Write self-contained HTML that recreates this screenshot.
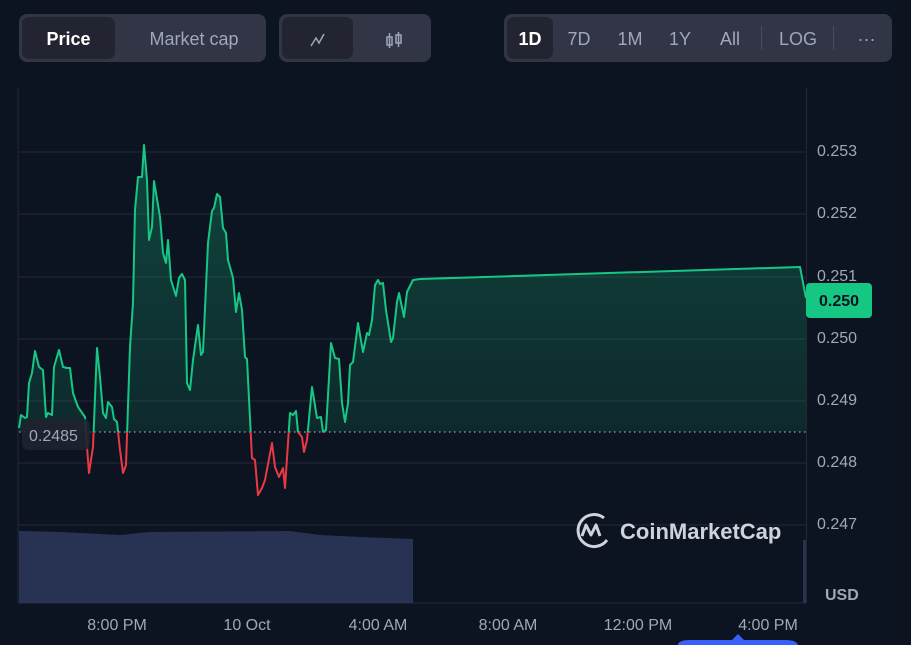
<!DOCTYPE html>
<html><head><style>
body{margin:0;width:911px;height:645px;background:#0d1421;font-family:"Liberation Sans",sans-serif;overflow:hidden;position:relative}
.grp{position:absolute;top:14px;height:48px;background:#323546;border-radius:8px}
.btn{position:absolute;top:3px;height:42px;line-height:44px;text-align:center;font-size:18px;color:#a1a7bb;border-radius:7px}
.sel{background:#222531;color:#fff;font-weight:bold}
.yl{position:absolute;left:817px;font-size:16px;color:#a1a7bb}
.xl{position:absolute;top:617px;font-size:16px;color:#a1a7bb;transform:translateX(-50%);white-space:nowrap}
</style></head><body>
<div class="grp" style="left:19px;width:247px">
 <div class="btn sel" style="left:3px;width:93px">Price</div>
 <div class="btn" style="left:105px;width:140px">Market cap</div>
</div>
<div class="grp" style="left:279px;width:152px">
 <div class="btn sel" style="left:3px;width:71px"><svg width="20" height="20" viewBox="0 0 20 20" style="vertical-align:middle"><path d="M3 16 L8 8 L11 13 L16 4" stroke="#a1a7bb" stroke-width="1.5" fill="none"/></svg></div>
 <div class="btn" style="left:80px;width:70px"><svg width="22" height="22" viewBox="0 0 22 22" style="vertical-align:middle"><g stroke="#a1a7bb" stroke-width="1.5" fill="none"><rect x="4" y="8" width="5" height="8"/><line x1="6.5" y1="4" x2="6.5" y2="19"/><rect x="13" y="6" width="5" height="8"/><line x1="15.5" y1="3" x2="15.5" y2="18"/></g></svg></div>
</div>
<div class="grp" style="left:504px;width:388px">
 <div class="btn sel" style="left:3px;width:46px">1D</div>
 <div class="btn" style="left:54px;width:42px">7D</div>
 <div class="btn" style="left:105px;width:42px">1M</div>
 <div class="btn" style="left:155px;width:42px">1Y</div>
 <div class="btn" style="left:205px;width:42px">All</div>
 <div style="position:absolute;left:257px;top:12px;width:1px;height:24px;background:#4a4e5f"></div>
 <div class="btn" style="left:270px;width:48px">LOG</div>
 <div style="position:absolute;left:329px;top:12px;width:1px;height:24px;background:#4a4e5f"></div>
 <div class="btn" style="left:340px;width:45px">···</div>
</div>
<svg style="position:absolute;left:0;top:0" width="911" height="645">
<defs>
<linearGradient id="gg" x1="0" y1="0" x2="0" y2="1"><stop offset="0" stop-color="#16c784" stop-opacity="0.28"/><stop offset="1" stop-color="#16c784" stop-opacity="0.08"/></linearGradient>
<clipPath id="up"><rect x="0" y="0" width="911" height="432"/></clipPath>
<clipPath id="dn"><rect x="0" y="432" width="911" height="200"/></clipPath>
</defs>
<g stroke="#222836" stroke-width="1">
<line x1="18" y1="152" x2="806" y2="152"/><line x1="18" y1="214" x2="806" y2="214"/><line x1="18" y1="277" x2="806" y2="277"/><line x1="18" y1="339" x2="806" y2="339"/><line x1="18" y1="401" x2="806" y2="401"/><line x1="18" y1="463" x2="806" y2="463"/><line x1="18" y1="525" x2="806" y2="525"/>
</g>
<line x1="18" y1="88" x2="18" y2="603" stroke="#222836"/>
<line x1="806.5" y1="88" x2="806.5" y2="603" stroke="#222836"/>
<line x1="18" y1="603" x2="806" y2="603" stroke="#222836"/>
<path d="M19 531 L60 532 L120 535 L150 532 L290 531 L320 535 L360 537 L413 539 L413 603 L19 603Z" fill="#283252"/>
<rect x="803" y="540" width="3" height="63" fill="#283252"/>
<path id="area" fill="url(#gg)" clip-path="url(#up)" d="M19 432 L19 428 L21 415 L25 418 L27 417 L29 383 L32 373 L35 351 L39 367 L43 370 L46 417 L48 413 L52 415 L54 367 L59 350 L63 367 L67 368 L70 368 L73 393 L78 407 L85 417 L87 447 L89 473 L93 447 L97 348 L100 377 L103 413 L106 418 L108 402 L112 407 L114 419 L117 422 L120 450 L123 473 L126 465 L130 347 L133 303 L135 210 L138 177 L142 177 L144 145 L147 180 L149 240 L152 227 L154 181 L160 217 L163 253 L166 263 L168 240 L171 280 L176 296 L179 278 L182 274 L185 280 L187 383 L190 390 L193 360 L198 325 L201 355 L203 352 L208 243 L212 211 L214 208 L217 194 L220 197 L223 228 L226 233 L228 260 L233 278 L236 312 L239 293 L242 310 L245 357 L247 359 L252 458 L255 460 L258 495 L262 488 L265 480 L272 443 L275 467 L279 477 L283 468 L285 488 L290 413 L293 415 L296 411 L298 432 L302 437 L304 452 L307 440 L312 387 L317 418 L321 417 L323 432 L326 430 L331 343 L335 358 L339 359 L342 403 L345 422 L348 403 L350 365 L353 362 L358 323 L363 352 L367 333 L369 335 L372 320 L375 285 L378 280 L380 284 L383 283 L386 310 L391 342 L393 338 L397 302 L399 293 L404 317 L407 292 L413 280 L420 279 L800 267 L806 298 L806 432 Z"/>
<use href="#area" clip-path="url(#dn)" fill="#ea3943" fill-opacity="0.25"/>
<line x1="19" y1="432" x2="806" y2="432" stroke="#9aa0b0" stroke-width="1.3" stroke-dasharray="1.5 3.5"/>
<path id="ln" fill="none" stroke-width="2" stroke-linejoin="round" d="M19 428 L21 415 L25 418 L27 417 L29 383 L32 373 L35 351 L39 367 L43 370 L46 417 L48 413 L52 415 L54 367 L59 350 L63 367 L67 368 L70 368 L73 393 L78 407 L85 417 L87 447 L89 473 L93 447 L97 348 L100 377 L103 413 L106 418 L108 402 L112 407 L114 419 L117 422 L120 450 L123 473 L126 465 L130 347 L133 303 L135 210 L138 177 L142 177 L144 145 L147 180 L149 240 L152 227 L154 181 L160 217 L163 253 L166 263 L168 240 L171 280 L176 296 L179 278 L182 274 L185 280 L187 383 L190 390 L193 360 L198 325 L201 355 L203 352 L208 243 L212 211 L214 208 L217 194 L220 197 L223 228 L226 233 L228 260 L233 278 L236 312 L239 293 L242 310 L245 357 L247 359 L252 458 L255 460 L258 495 L262 488 L265 480 L272 443 L275 467 L279 477 L283 468 L285 488 L290 413 L293 415 L296 411 L298 432 L302 437 L304 452 L307 440 L312 387 L317 418 L321 417 L323 432 L326 430 L331 343 L335 358 L339 359 L342 403 L345 422 L348 403 L350 365 L353 362 L358 323 L363 352 L367 333 L369 335 L372 320 L375 285 L378 280 L380 284 L383 283 L386 310 L391 342 L393 338 L397 302 L399 293 L404 317 L407 292 L413 280 L420 279 L800 267 L806 298"/>
<use href="#ln" stroke="#16c784" clip-path="url(#up)"/>
<use href="#ln" stroke="#ea3943" clip-path="url(#dn)"/>
<rect x="22" y="419" width="68" height="31" rx="6" fill="#1e2230" fill-opacity="0.9"/>
<text x="29" y="441" font-size="16" fill="#a1a7bb" font-family="Liberation Sans">0.2485</text>
<rect x="806" y="283" width="66" height="35" rx="4" fill="#16c784"/>
<text x="839" y="306" font-size="16" font-weight="bold" fill="#0d1421" text-anchor="middle" font-family="Liberation Sans">0.250</text>
<g transform="translate(591,530)" fill="none" stroke="#cfd3dc" stroke-width="3">
<path d="M13 -12 A16 16 0 1 0 16 10"/>
<path d="M-9 6 L-5 -5 L0 5 L5 -5 L9 6" stroke-linejoin="round"/>
</g>
<text x="620" y="539" font-size="22" font-weight="bold" fill="#cfd3dc" font-family="Liberation Sans">CoinMarketCap</text>
<path d="M678 645 L678 644 Q680 640 690 640 L732 640 L738 634 L744 640 L786 640 Q796 640 798 645Z" fill="#3861fb"/>
</svg>
<div class="yl" style="top:143px">0.253</div>
<div class="yl" style="top:205px">0.252</div>
<div class="yl" style="top:268px">0.251</div>
<div class="yl" style="top:330px">0.250</div>
<div class="yl" style="top:392px">0.249</div>
<div class="yl" style="top:454px">0.248</div>
<div class="yl" style="top:516px">0.247</div>
<div class="yl" style="top:587px;left:825px;font-weight:bold;font-size:16px">USD</div>
<div class="xl" style="left:117px">8:00 PM</div>
<div class="xl" style="left:247px">10 Oct</div>
<div class="xl" style="left:378px">4:00 AM</div>
<div class="xl" style="left:508px">8:00 AM</div>
<div class="xl" style="left:638px">12:00 PM</div>
<div class="xl" style="left:768px">4:00 PM</div>
</body></html>
